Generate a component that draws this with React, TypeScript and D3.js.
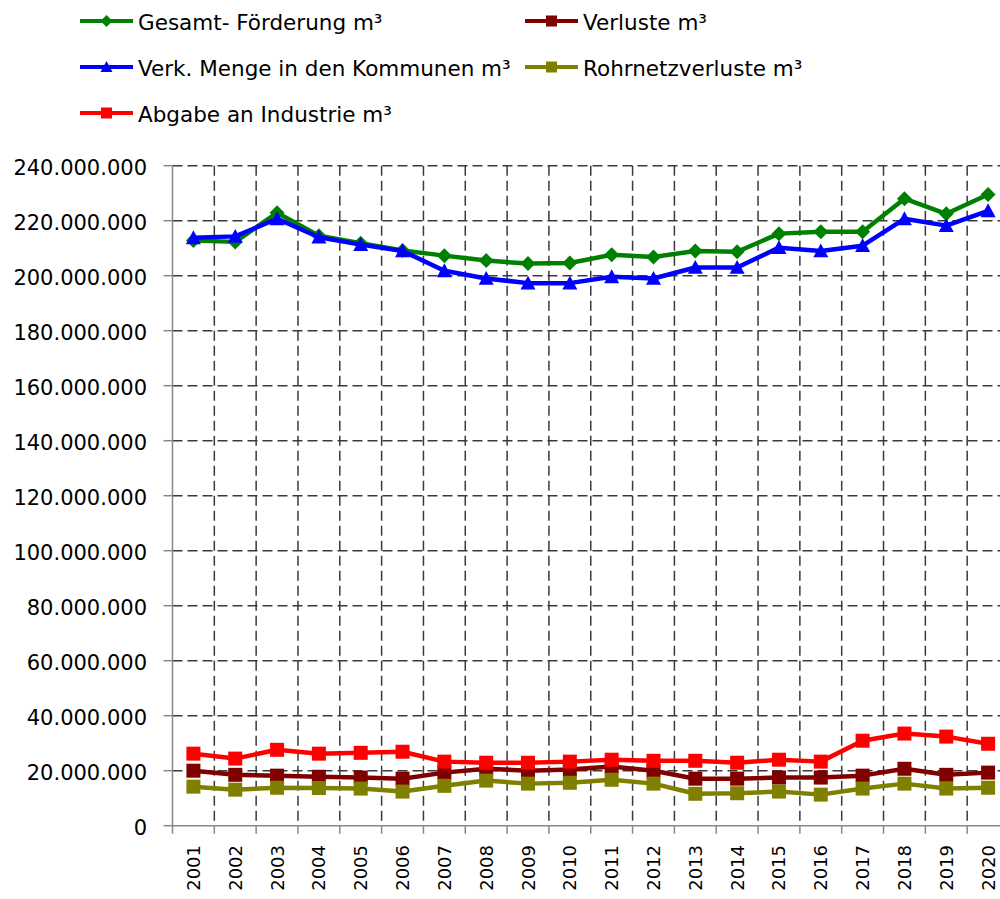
import React from 'react';
import * as d3 from 'd3';

// Werte in Mio. m³
const years = ['2001', '2002', '2003', '2004', '2005', '2006', '2007', '2008', '2009', '2010',
  '2011', '2012', '2013', '2014', '2015', '2016', '2017', '2018', '2019', '2020'];

const gesamtFoerderung = [212.8, 212.3, 222.9, 214.5, 211.8, 209.2, 207.3, 205.5, 204.4, 204.6,
  207.6, 206.8, 209.0, 208.7, 215.3, 216.0, 216.0, 228.0, 222.5, 229.5];
const verkMenge = [213.8, 214.3, 220.7, 214.0, 211.3, 209.0, 201.8, 199.0, 197.3, 197.3,
  199.6, 199.0, 203.0, 203.0, 210.2, 209.0, 210.9, 220.7, 218.2, 223.6];
const abgabeIndustrie = [26.2, 24.4, 27.6, 26.2, 26.5, 26.9, 23.3, 22.9, 22.9, 23.3,
  24.0, 23.6, 23.6, 22.9, 24.0, 23.3, 30.9, 33.5, 32.4, 29.8];
const verluste = [20.0, 18.5, 18.2, 17.8, 17.5, 17.1, 19.3, 20.7, 20.0, 20.4,
  21.5, 20.0, 17.1, 17.1, 17.5, 17.5, 18.2, 20.7, 18.5, 19.3];
const rohrnetzverluste = [14.2, 13.1, 13.8, 13.7, 13.5, 12.4, 14.5, 16.4, 15.3, 15.6,
  16.7, 15.3, 11.6, 11.8, 12.4, 11.3, 13.5, 15.3, 13.5, 13.8];

const yTicks = [0, 20, 40, 60, 80, 100, 120, 140, 160, 180, 200, 220, 240];
const MIO = 1e6;

type Marker = 'diamond' | 'triangle' | 'square';

interface Series {
  name: string;
  values: number[];
  color: string;
  marker: Marker;
}

// Zeichenreihenfolge wie im Original (Legende zeilenweise)
const series: Series[] = [
  { name: 'Gesamt- Förderung m³', values: gesamtFoerderung, color: '#008000', marker: 'diamond' },
  { name: 'Verluste m³', values: verluste, color: '#800000', marker: 'square' },
  { name: 'Verk. Menge in den Kommunen m³', values: verkMenge, color: '#0000FF', marker: 'triangle' },
  { name: 'Rohrnetzverluste m³', values: rohrnetzverluste, color: '#808000', marker: 'square' },
  { name: 'Abgabe an Industrie m³', values: abgabeIndustrie, color: '#FF0000', marker: 'square' },
];

const de = d3.formatLocale({ decimal: ',', thousands: '.', grouping: [3], currency: ['', ' €'] });
const fmt = de.format(',d');

const FONT = "'DejaVu Sans', sans-serif";

function markerPath(m: Marker, r: number): string {
  if (m === 'diamond') return `M0,${-r}L${r},0L0,${r}L${-r},0Z`;
  if (m === 'triangle') return `M0,${-r}L${r},${r * 0.85}L${-r},${r * 0.85}Z`;
  return `M${-r},${-r}H${r}V${r}H${-r}Z`;
}

const App: React.FC = () => {
  const width = 1000;
  const height = 899;
  const left = 172.5;
  const right = 1009; // Plotfläche läuft rechts etwas über den Rand hinaus
  const top = 165.7;
  const bottom = 825.7;

  const x = d3.scaleBand<string>().domain(years).range([left, right]).padding(0);
  const y = d3.scaleLinear().domain([0, 240 * MIO]).range([bottom, top]);
  const cx = (yr: string) => (x(yr) ?? 0) + x.bandwidth() / 2;

  const line = d3.line<number>()
    .x((_, i) => cx(years[i]))
    .y(d => y(d * MIO));

  const boundaries = years.map(yr => x(yr) ?? 0).concat([right]);

  // Legende: zwei Spalten, zeilenweise befüllt
  const legendCols = [80, 525];
  const legendRows = [21, 67, 113];

  return (
    <svg width={width} height={height} style={{ position: 'absolute', left: 0, top: 0, background: '#fff' }}>
      {/* Gitternetz */}
      <g stroke="#3a3a3a" strokeWidth={1.5} strokeDasharray="10,5" fill="none">
        {yTicks.filter(t => t > 0).map(t => (
          <line key={'h' + t} x1={left} x2={right} y1={y(t * MIO)} y2={y(t * MIO)} />
        ))}
        {boundaries.slice(1).map((bx, i) => (
          <line key={'v' + i} x1={bx} x2={bx} y1={top} y2={bottom} />
        ))}
      </g>

      {/* Achsen */}
      <g stroke="#888" strokeWidth={1.5}>
        <line x1={left} x2={left} y1={top} y2={bottom} />
        <line x1={left} x2={right} y1={bottom} y2={bottom} />
        {yTicks.map(t => (
          <line key={'yt' + t} x1={left - 9} x2={left} y1={y(t * MIO)} y2={y(t * MIO)} />
        ))}
        {boundaries.map((bx, i) => (
          <line key={'xt' + i} x1={bx} x2={bx} y1={bottom} y2={bottom + 8} />
        ))}
      </g>

      {/* Y-Beschriftung */}
      <g fontFamily={FONT} fontSize={21} fill="#000" textAnchor="end">
        {yTicks.map(t => (
          <text key={'yl' + t} x={147} y={y(t * MIO) + 9.5}>{fmt(t * MIO)}</text>
        ))}
      </g>

      {/* X-Beschriftung, um 90° gedreht */}
      <g fontFamily={FONT} fontSize={18} fill="#000" textAnchor="end">
        {years.map(yr => (
          <text key={'xl' + yr} transform={`translate(${cx(yr) + 6.5},845) rotate(-90)`}>{yr}</text>
        ))}
      </g>

      {/* Datenreihen */}
      {series.map(s => (
        <g key={s.name}>
          <path d={line(s.values) ?? ''} fill="none" stroke={s.color} strokeWidth={4.5} strokeLinejoin="round" />
          {s.values.map((v, i) => (
            <path key={i} transform={`translate(${cx(years[i])},${y(v * MIO)})`}
              d={markerPath(s.marker, s.marker === 'square' ? 7 : 7.5)} fill={s.color} />
          ))}
        </g>
      ))}

      {/* Legende */}
      <g fontFamily={FONT} fontSize={21.5} fill="#000">
        {series.map((s, i) => {
          const lx = legendCols[i % 2];
          const ly = legendRows[Math.floor(i / 2)];
          const mx = lx + 26.5;
          return (
            <g key={'lg' + s.name}>
              <line x1={lx} x2={lx + 53} y1={ly} y2={ly} stroke={s.color} strokeWidth={4} />
              <path transform={`translate(${mx},${ly})`} d={markerPath(s.marker, s.marker === 'square' ? 5.5 : 6)} fill={s.color} />
              <text x={lx + 58} y={ly + 9}>{s.name}</text>
            </g>
          );
        })}
      </g>
    </svg>
  );
};

export default App;
